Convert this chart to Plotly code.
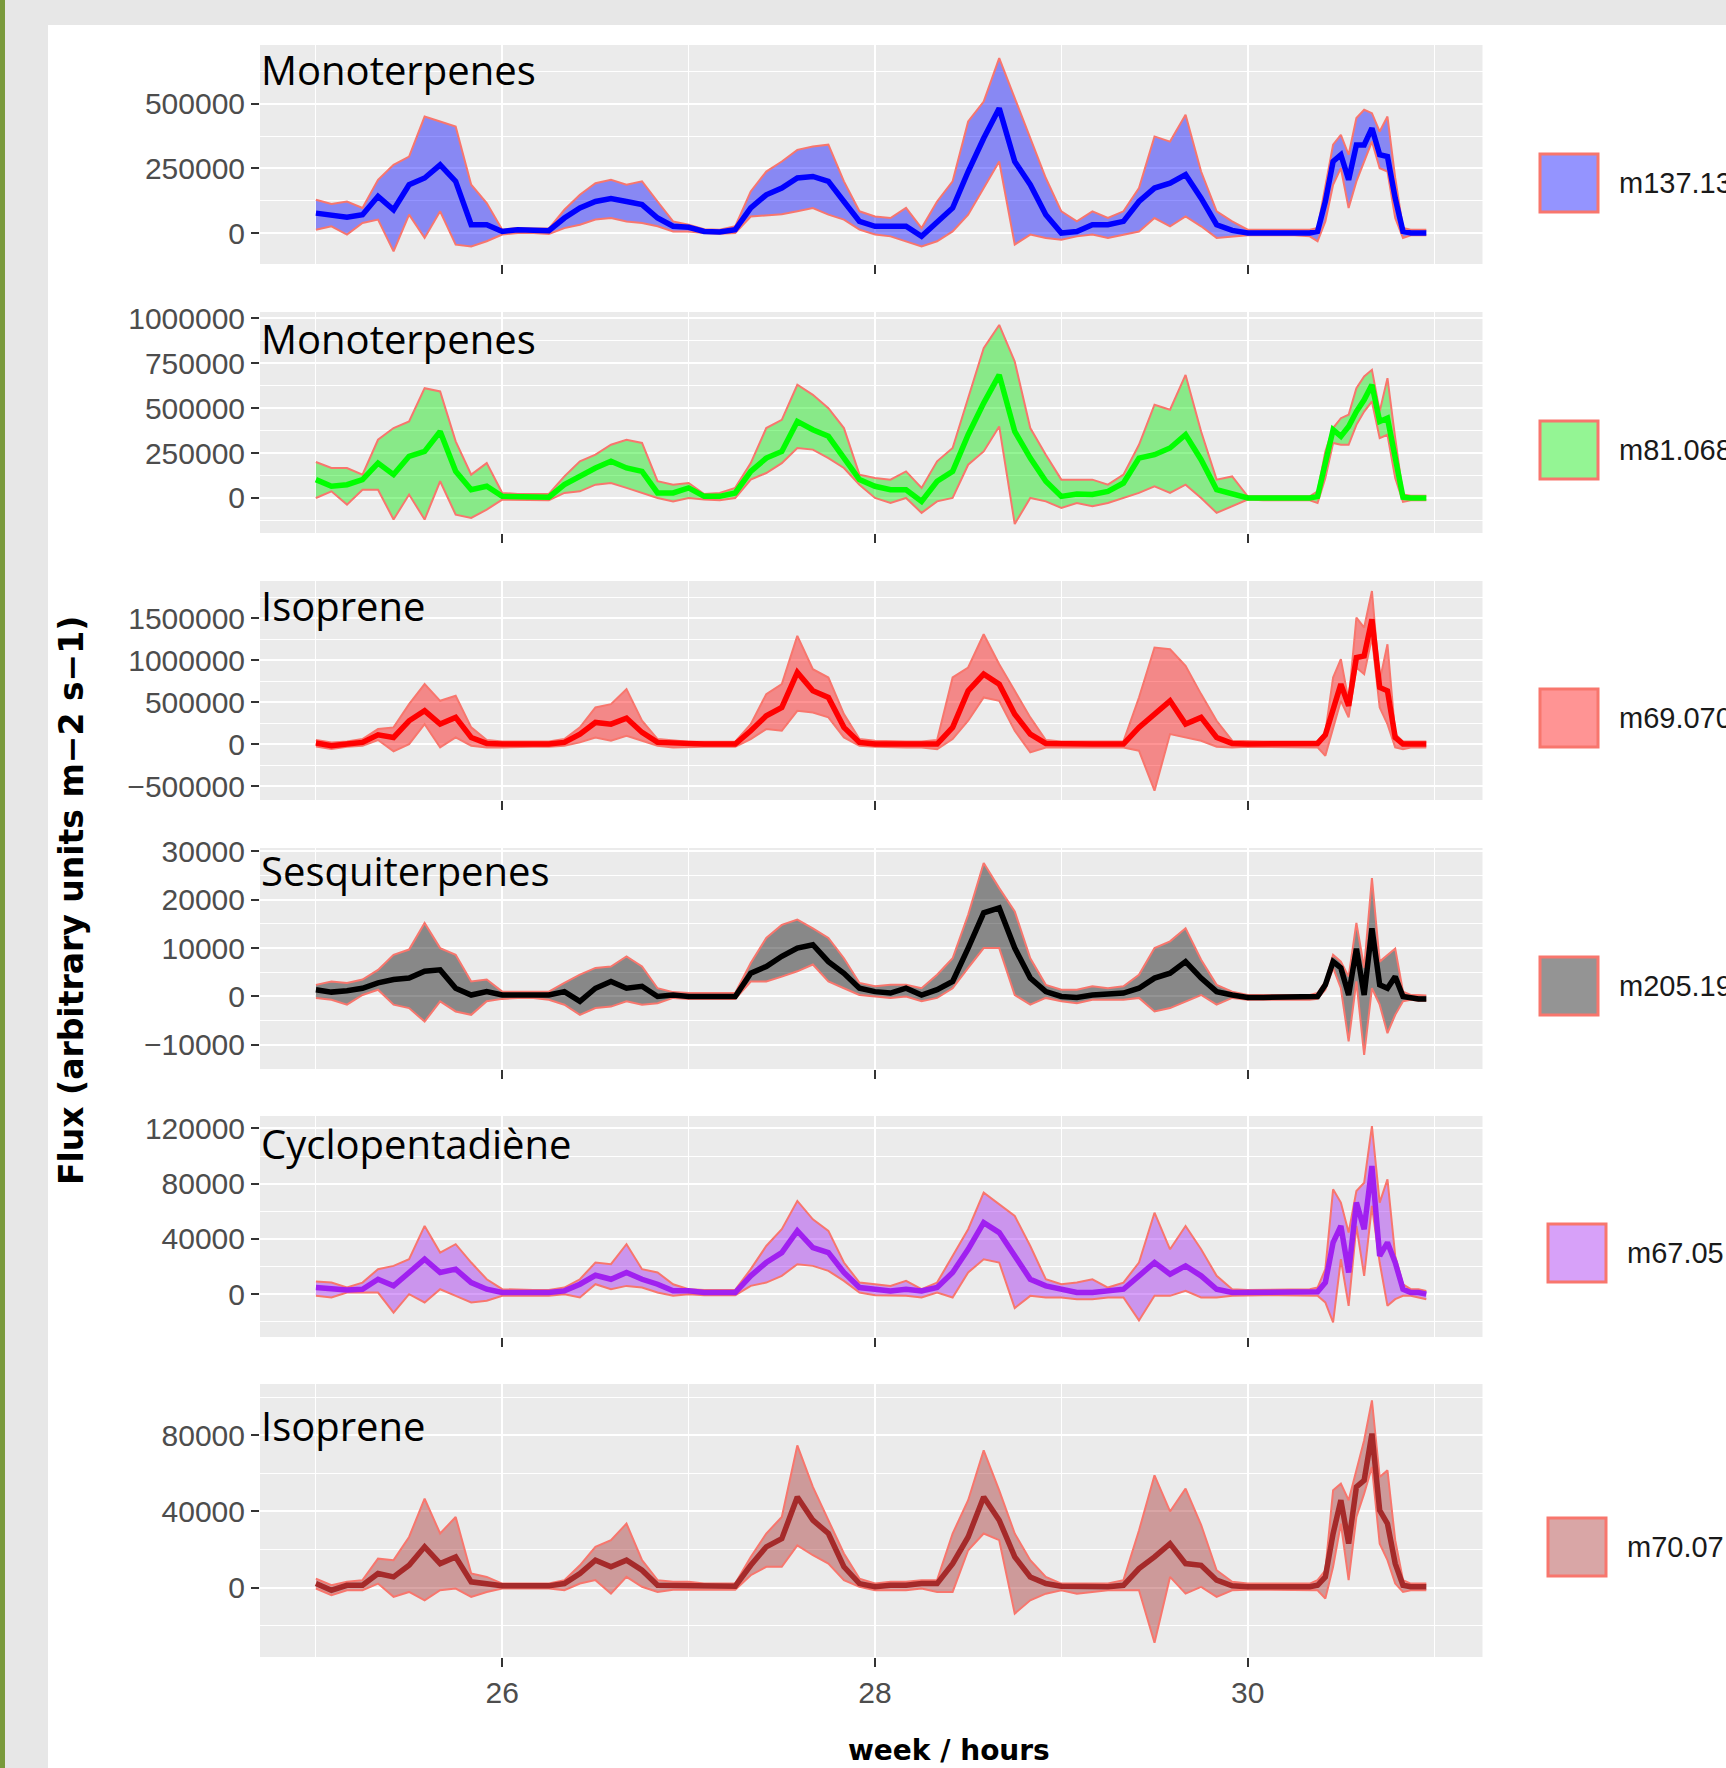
import plotly.graph_objects as go

W, H = 1726, 1768

# ---------------- data ----------------
# sampling: every 2 h for the first 128 h, hourly afterwards (hours since start of week 25)
HOURS = list(range(0, 128, 2)) + list(range(128, 144))
WEEK0 = 25

SPECIES = ["m137.13", "m81.068", "m69.070", "m205.19", "m67.05", "m70.07"]
TITLES = ["Monoterpenes", "Monoterpenes", "Isoprene", "Sesquiterpenes", "Cyclopentadiène", "Isoprene"]

# panel 1 (thousands)
P1_MEAN_K = [77, 68, 61, 71, 142, 90, 187, 213, 264, 200, 32, 32, 6, 13, 10, 9, 58, 97, 122, 133,
             122, 110, 58, 26, 22, 6, 4, 13, 97, 148, 174, 213, 219, 200, 122, 45, 26, 26, 26, -13,
             45, 97, 238, 367, 483, 277, 187, 71, 0, 6, 32, 32, 45, 122, 174, 193, 226, 135, 32, 10,
             0, 0, 0, 0,
             0, 6, 122, 277, 303, 206, 341, 341, 406, 303, 296, 135, 6, 0, 0, 0]
P1_UP_K = [129, 112, 122, 97, 206, 264, 296, 451, 432, 412, 187, 116, 13, 19, 17, 17, 90, 148, 193, 206,
           187, 200, 122, 45, 32, 15, 13, 26, 161, 238, 277, 322, 335, 342, 200, 84, 64, 58, 97, 19,
           122, 200, 432, 509, 677, 522, 367, 213, 84, 45, 84, 58, 84, 174, 374, 354, 458, 238, 84, 45,
           13, 13, 13, 13,
           13, 19, 187, 342, 380, 303, 445, 477, 464, 393, 451, 213, 19, 13, 13, 13]
P1_LO_K = [13, 26, -6, 39, 52, -71, 71, -19, 84, -45, -52, -32, -6, 0, 0, -4, 19, 32, 52, 58,
           45, 39, 26, 6, 6, 0, -3, 0, 64, 68, 73, 84, 97, 71, 52, 13, -6, -13, -32, -52,
           -32, 6, 71, 174, 277, -45, -6, -19, -26, -13, -6, -19, -6, 6, 58, 26, 64, 26, -19, -13,
           -9, -9, -9, -9,
           -13, -32, 45, 187, 251, 97, 200, 277, 354, 251, 238, 58, -19, -9, -9, -9]

# panel 2 (thousands)
P2_MEAN_K = [102, 65, 74, 102, 194, 130, 232, 259, 370, 148, 46, 65, 9, 9, 9, 4, 74, 120, 167, 204,
             167, 148, 28, 28, 56, 9, 9, 28, 148, 222, 259, 426, 380, 343, 222, 102, 65, 46, 46, -19,
             93, 148, 352, 528, 685, 370, 222, 93, 9, 22, 19, 37, 83, 222, 241, 278, 352, 213, 46, 19,
             0, 0, 0, 0,
             0, 9, 185, 380, 343, 398, 481, 546, 630, 426, 444, 222, 4, 0, 0, 0]
P2_UP_K = [200, 167, 167, 130, 324, 389, 426, 611, 593, 315, 130, 194, 28, 22, 22, 22, 120, 204, 241, 296,
           324, 306, 93, 74, 83, 22, 28, 56, 194, 389, 435, 630, 574, 500, 389, 130, 111, 102, 148, 56,
           204, 278, 556, 833, 963, 759, 389, 241, 102, 102, 102, 74, 130, 296, 519, 491, 685, 370, 102, 120,
           9, 9, 9, 9,
           9, 37, 259, 389, 444, 463, 611, 676, 713, 482, 667, 333, 19, 13, 13, 13]
P2_LO_K = [0, 37, -37, 46, 46, -120, 19, -120, 93, -93, -111, -65, -9, -9, -9, -13, 28, 37, 74, 83,
           56, 28, 0, -19, 0, -9, -13, 0, 102, 139, 194, 278, 269, 222, 167, 74, 0, -28, 0, -83,
           -19, 0, 185, 259, 398, -145, 0, -19, -56, -28, -46, -28, 0, 28, 65, 28, 74, 0, -83, -46,
           -9, -13, -13, -13,
           -13, -28, 111, 306, 296, 296, 407, 481, 537, 333, 352, 111, -22, -13, -13, -13]

# panel 3 (thousands)
P3_MEAN_K = [12, -20, 0, 20, 111, 79, 278, 397, 238, 318, 79, 8, 0, 0, 0, 0, 20, 119, 258, 238,
             310, 139, 20, 8, 0, 0, 0, 0, 159, 337, 437, 854, 635, 556, 199, 20, 0, 0, 0, 0,
             0, 199, 635, 834, 715, 357, 119, 8, 0, 0, 0, 0, 0, 199, 357, 516, 238, 318, 79, 8,
             0, 0, 0, 0,
             0, 8, 111, 437, 715, 457, 1032, 1052, 1489, 675, 635, 79, 0, 0, 0, 0]
P3_UP_K = [48, 20, 32, 60, 179, 199, 476, 715, 516, 576, 199, 48, 32, 32, 32, 32, 60, 199, 437, 476,
           655, 278, 60, 40, 28, 28, 28, 28, 238, 596, 715, 1290, 893, 794, 357, 60, 40, 32, 32, 32,
           48, 794, 913, 1310, 953, 635, 318, 48, 32, 32, 32, 32, 32, 556, 1151, 1131, 933, 596, 278, 40,
           32, 32, 32, 32,
           40, 32, 139, 794, 1012, 516, 1509, 1390, 1826, 754, 1191, 119, 32, 32, 32, 32]
P3_LO_K = [-28, -60, -32, -20, 48, -87, 0, 238, -40, 79, -20, -40, -40, -32, -32, -32, -20, 20, 79, 40,
           99, 40, -20, -40, -32, -32, -32, -32, 60, 179, 159, 397, 377, 318, 79, -20, -32, -40, -40, -40,
           -60, 60, 278, 556, 516, 159, -99, -40, -40, -40, -40, -40, -40, -79, -556, 119, 79, 40, -32, -40,
           -32, -32, -32, -32,
           -40, -40, -139, 199, 516, 318, 913, 834, 1270, 437, 238, -40, -60, -40, -40, -40]

# panel 4 (units)
P4_MEAN = [1400, 900, 1200, 1700, 2800, 3500, 3800, 5200, 5500, 1700, 300, 1000, 300, 300, 300, 300, 1000, -1000, 1700, 3100,
           1700, 2100, 0, 300, 0, 0, 0, 0, 4800, 6200, 8300, 10000, 10700, 7200, 4800, 1700, 1000, 700, 1700, 300,
           1400, 3100, 10000, 17300, 18300, 10000, 3800, 1000, 0, -200, 300, 500, 700, 1700, 3800, 4800, 7200, 3800, 1000, 300,
           -200, -200, -200, -200,
           -200, 0, 2400, 7200, 5900, 300, 9900, 300, 14100, 2400, 1700, 4100, 0, -300, -500, -500]
P4_UP = [2400, 3100, 2800, 3500, 5500, 8600, 9700, 15200, 10000, 8600, 3100, 3500, 1000, 1000, 1000, 1000, 2800, 4500, 5900, 6200,
         8300, 6200, 1700, 900, 700, 700, 700, 700, 6900, 12100, 14800, 15900, 14100, 12100, 7900, 2800, 2100, 2400, 2400, 1700,
         4500, 7900, 16900, 27600, 22400, 17600, 7900, 2400, 1400, 1400, 2100, 1700, 2100, 4500, 10000, 11400, 14100, 7600, 2400, 1000,
         300, 300, 300, 300,
         300, 700, 3100, 8600, 7200, 4100, 15200, 5900, 24500, 7200, 8600, 9900, 1000, 300, 300, 200]
P4_LO = [-300, -700, -1700, 300, 1400, -1700, -2400, -5200, -1000, -3100, -3800, -1000, -500, -300, -300, -700, -1700, -3800, -2400, -2100,
         -1000, -1700, -1400, -300, -500, -500, -500, -500, 3100, 3100, 4100, 5200, 6600, 3100, 1700, 300, 0, -300, 0, -1000,
         -300, 1700, 5900, 10000, 10000, 300, -1700, -300, -1000, -1400, -700, -700, -700, -300, -3100, -2400, -1000, 300, -1700, -300,
         -700, -700, -700, -700,
         -700, -500, 1400, 5900, 1700, -9300, 3100, -12100, 1700, -1700, -7600, -3800, -1000, -700, -900, -900]

# panel 5 (thousands)
P5_MEAN_K = [4.8, 3.6, 3.1, 3.6, 10.8, 6.0, 15.7, 25.3, 15.7, 18.1, 8.4, 3.6, 1.2, 1.2, 1.2, 1.2, 2.4, 7.2, 13.7, 10.8,
             15.7, 10.8, 7.2, 2.4, 2.4, 1.2, 1.2, 1.2, 13.3, 22.9, 30.1, 45.8, 33.7, 30.1, 15.7, 4.8, 3.6, 2.4, 3.6, 2.4,
             4.8, 15.7, 32.5, 51.8, 44.6, 27.7, 10.8, 6.0, 3.6, 1.2, 1.2, 2.4, 3.6, 13.3, 22.9, 14.5, 20.5, 13.3, 3.6, 1.2,
             1.2, 1.2, 1.2, 1.2,
             1.2, 1.7, 8.4, 37.4, 49.4, 15.7, 66.3, 47.0, 92.8, 27.7, 37.4, 22.9, 3.6, 1.2, 1.2, 0.0]
P5_UP_K = [9.2, 8.4, 4.8, 8.4, 18.1, 20.5, 25.3, 49.4, 30.1, 36.2, 22.9, 10.8, 3.6, 3.1, 3.1, 3.1, 4.8, 10.8, 22.9, 21.7,
           36.2, 18.1, 15.7, 7.2, 3.6, 3.1, 3.1, 3.1, 18.1, 34.9, 47.0, 67.5, 54.2, 45.8, 22.9, 8.4, 7.2, 6.0, 9.6, 3.6,
           8.4, 27.7, 47.0, 73.5, 65.1, 56.6, 34.9, 10.8, 7.2, 8.4, 10.8, 4.8, 8.4, 22.9, 59.0, 32.5, 49.4, 32.5, 13.3, 3.6,
           3.1, 3.1, 3.1, 3.1,
           3.6, 4.8, 18.1, 75.9, 66.3, 44.6, 74.7, 80.7, 121.7, 66.3, 83.1, 27.7, 7.2, 3.6, 3.6, 2.4]
P5_LO_K = [-1.2, -2.4, 1.2, 1.2, 1.2, -13.3, 0.0, -6.0, 3.6, -1.2, -6.0, -4.8, -1.2, -1.2, -1.2, -1.2, 0.0, -2.4, 7.2, 3.6,
           6.0, 4.8, 1.2, -1.2, 0.0, -0.7, -0.7, -0.7, 6.0, 8.4, 13.3, 21.7, 20.5, 16.9, 9.6, 1.2, -0.7, -1.2, -1.2, -2.4,
           1.2, -2.4, 15.7, 25.3, 22.9, -10.0, -1.2, -2.4, -2.4, -3.6, -3.6, -2.4, -2.4, -19.0, -1.2, -1.2, 2.4, -2.4, -2.4, -1.2,
           -0.7, -0.7, -0.7, -0.7,
           -1.2, -1.2, -6.0, -20.5, 25.3, -8.4, 49.4, 13.3, 63.9, 22.9, -8.4, -3.6, -1.2, -1.2, -2.4, -3.6]

# panel 6 (thousands)
P6_MEAN_K = [2.1, -1.4, 1.2, 1.2, 7.4, 5.6, 11.7, 21.4, 12.6, 16.1, 3.0, 2.1, 0.9, 0.9, 0.9, 0.9, 2.1, 7.4, 14.4, 10.9,
             14.4, 9.1, 1.2, 1.2, 1.2, 0.7, 0.7, 0.7, 11.7, 21.4, 25.7, 47.6, 35.4, 28.4, 10.9, 2.1, 0.4, 1.2, 1.2, 2.1,
             2.1, 12.6, 26.6, 47.6, 35.4, 16.1, 5.6, 2.1, 0.7, 0.4, 0.4, 0.4, 1.2, 10.0, 16.1, 23.1, 12.6, 11.7, 3.9, 0.9,
             0.4, 0.4, 0.4, 0.4,
             0.4, 1.2, 5.6, 28.4, 45.9, 23.1, 52.9, 56.4, 80.9, 40.6, 33.6, 12.6, 1.2, 0.4, 0.4, 0.4]
P6_UP_K = [4.7, 1.2, 3.0, 3.9, 15.2, 14.4, 26.6, 46.7, 28.4, 37.1, 7.4, 5.6, 2.1, 2.1, 2.1, 2.1, 3.9, 11.7, 21.4, 24.9,
           33.6, 14.4, 3.9, 3.0, 3.0, 2.1, 2.1, 2.1, 16.1, 28.4, 37.1, 74.7, 52.9, 35.4, 17.9, 4.7, 2.1, 3.0, 3.0, 3.9,
           3.9, 28.4, 45.9, 72.1, 51.1, 28.4, 14.4, 5.6, 2.1, 2.1, 2.1, 2.1, 3.9, 30.0, 59.0, 40.0, 52.0, 33.0, 9.1, 3.0,
           2.1, 2.1, 2.1, 2.1,
           2.1, 3.9, 9.1, 51.1, 54.6, 45.9, 61.6, 77.4, 98.4, 58.1, 61.6, 24.9, 3.9, 2.1, 2.1, 2.1]
P6_LO_K = [-0.5, -4.0, -1.4, -1.4, 2.1, -4.9, -2.3, -6.7, -1.4, -0.5, -4.9, -2.3, -0.5, -0.5, -0.5, -0.5, -1.4, 2.1, 3.9, -3.2,
           5.6, 0.4, -2.3, -1.1, -1.1, -1.1, -1.1, -1.1, 6.5, 10.9, 10.9, 22.2, 17.0, 12.6, 3.9, 0.4, -1.4, -1.4, -1.4, -0.5,
           -2.3, -2.3, 19.6, 28.4, 24.9, -13.7, -6.7, -3.2, -1.4, -3.2, -2.3, -1.4, -1.4, -1.4, -29.0, 5.6, -3.2, 0.4, -4.9, -1.4,
           -1.1, -1.1, -1.1, -1.1,
           -1.1, -1.4, -5.8, 10.9, 33.6, 3.9, 37.1, 49.4, 63.4, 23.1, 14.4, 2.1, -2.3, -1.4, -1.4, -1.4]

Y_RANGES = [(-120000, 728000), (-195000, 1035000), (-667000, 1945000),
            (-15000, 30700), (-31000, 129000), (-36500, 107000)]
Y_DTICK = [250000, 250000, 500000, 10000, 40000, 40000]
X_TICK_STEP = 2

# ---------------- styling ----------------
LINE_COLORS = ["#0000FF", "#00FF00", "#FF0000", "#000000", "#A020F0", "#A52A2A"]
FILL_COLORS = ["rgba(0,0,255,0.42)", "rgba(0,230,0,0.42)", "rgba(255,0,0,0.42)",
               "rgba(0,0,0,0.42)", "rgba(160,32,240,0.42)", "rgba(165,42,42,0.42)"]
OUTLINE = "#F8766D"
PANEL_PX = [(45, 264), (312, 533), (581, 800), (848, 1069), (1116, 1337), (1384, 1657)]
TITLE_Y_PX = [70, 338, 605, 870, 1143, 1425]
KEY_CY_PX = [183, 450, 718, 986, 1253, 1547]
KEY_X_PX = [1540, 1540, 1540, 1540, 1548, 1548]
X_LEFT_PX, X_RIGHT_PX = 260, 1482.5

TICK_FONT = dict(family="Liberation Sans, Arial, sans-serif", size=30, color="#4D4D4D")


def px(x):
    return x / W


def py(y):
    return 1 - y / H


SERIES = [
    (P1_MEAN_K, P1_UP_K, P1_LO_K, 1000),
    (P2_MEAN_K, P2_UP_K, P2_LO_K, 1000),
    (P3_MEAN_K, P3_UP_K, P3_LO_K, 1000),
    (P4_MEAN, P4_UP, P4_LO, 1),
    (P5_MEAN_K, P5_UP_K, P5_LO_K, 1000),
    (P6_MEAN_K, P6_UP_K, P6_LO_K, 1000),
]

T = [WEEK0 + h / 24 for h in HOURS]

fig = go.Figure()
layout = dict(
    width=W, height=H,
    margin=dict(l=0, r=0, t=0, b=0, autoexpand=False),
    paper_bgcolor="white", plot_bgcolor="#EBEBEB",
    showlegend=False,
    shapes=[], annotations=[],
)

for i, (mean, up, lo, scale) in enumerate(SERIES):
    p = i + 1
    xa = "x" if p == 1 else f"x{p}"
    ya = "y" if p == 1 else f"y{p}"
    fig.add_trace(go.Scatter(x=T, y=[v * scale for v in up], xaxis=xa, yaxis=ya, mode="lines",
                             line=dict(color=OUTLINE, width=2), hoverinfo="skip"))
    fig.add_trace(go.Scatter(x=T, y=[v * scale for v in lo], xaxis=xa, yaxis=ya, mode="lines",
                             fill="tonexty", fillcolor=FILL_COLORS[i],
                             line=dict(color=OUTLINE, width=2), hoverinfo="skip"))
    fig.add_trace(go.Scatter(x=T, y=[v * scale for v in mean], xaxis=xa, yaxis=ya, mode="lines",
                             line=dict(color=LINE_COLORS[i], width=5.5), name=SPECIES[i]))

    top, bot = PANEL_PX[i]
    key = "" if p == 1 else str(p)
    layout["xaxis" + key] = dict(
        domain=[px(X_LEFT_PX), px(X_RIGHT_PX)], anchor=ya, range=[24.70, 31.26],
        automargin=False,
        tickmode="linear", tick0=26, dtick=X_TICK_STEP,
        ticks="outside", ticklen=9, tickwidth=2, tickcolor="#333333",
        showticklabels=(p == 6), tickfont=TICK_FONT,
        showgrid=True, gridcolor="white", gridwidth=2.2,
        minor=dict(tick0=25, dtick=1, showgrid=True, gridcolor="white", gridwidth=1.3),
        zeroline=False, showline=False,
    )
    layout["yaxis" + key] = dict(
        domain=[py(bot), py(top)], anchor=xa, range=list(Y_RANGES[i]),
        automargin=False,
        tickmode="linear", tick0=0, dtick=Y_DTICK[i], tickformat="d",
        ticks="outside", ticklen=8, tickwidth=2, tickcolor="#333333",
        tickfont=TICK_FONT,
        showgrid=True, gridcolor="white", gridwidth=2.2,
        minor=dict(tick0=0, dtick=Y_DTICK[i] / 2, showgrid=True, gridcolor="white", gridwidth=1.1),
        zeroline=False, showline=False,
    )

    # panel title
    layout["annotations"].append(dict(
        text=TITLES[i], xref="paper", yref="paper", x=px(259), y=py(TITLE_Y_PX[i]),
        xanchor="left", yanchor="middle", showarrow=False,
        font=dict(family="Open Sans, sans-serif", size=40, color="black")))

    # legend key
    cy = KEY_CY_PX[i]
    kx = KEY_X_PX[i]
    layout["shapes"].append(dict(
        type="rect", xref="paper", yref="paper",
        x0=px(kx), x1=px(kx + 58), y0=py(cy + 29), y1=py(cy - 29),
        fillcolor=FILL_COLORS[i], line=dict(color=OUTLINE, width=3)))
    layout["annotations"].append(dict(
        text=SPECIES[i], xref="paper", yref="paper", x=px(kx + 77), y=py(cy),
        xanchor="left", yanchor="middle", showarrow=False,
        font=dict(family="Liberation Sans, Arial, sans-serif", size=29, color="#1A1A1A")))

# slide decoration (grey frame and green edge)
layout["shapes"] += [
    dict(type="rect", xref="paper", yref="paper", x0=0, x1=1, y0=py(25), y1=1,
         fillcolor="#E7E7E7", line=dict(width=0), layer="below"),
    dict(type="rect", xref="paper", yref="paper", x0=0, x1=px(48), y0=0, y1=1,
         fillcolor="#E7E7E7", line=dict(width=0), layer="below"),
    dict(type="rect", xref="paper", yref="paper", x0=0, x1=px(5), y0=0, y1=1,
         fillcolor="#7A9A3C", line=dict(width=0), layer="below"),
]

# axis titles
layout["annotations"] += [
    dict(text="<b>week / hours</b>", xref="paper", yref="paper", x=px(949), y=py(1750),
         xanchor="center", yanchor="middle", showarrow=False,
         font=dict(family="DejaVu Sans, sans-serif", size=28, color="black")),
    dict(text="<b>Flux (arbitrary units m\u22122 s\u22121)</b>", xref="paper", yref="paper",
         x=px(72), y=py(901), xanchor="center", yanchor="middle", textangle=-90, showarrow=False,
         font=dict(family="DejaVu Sans, sans-serif", size=33, color="black")),
]

fig.update_layout(**layout)
fig.write_html("out.html",
               config={"displayModeBar": False},
               post_script="document.body.style.margin='0px';document.body.style.overflow='hidden';")
